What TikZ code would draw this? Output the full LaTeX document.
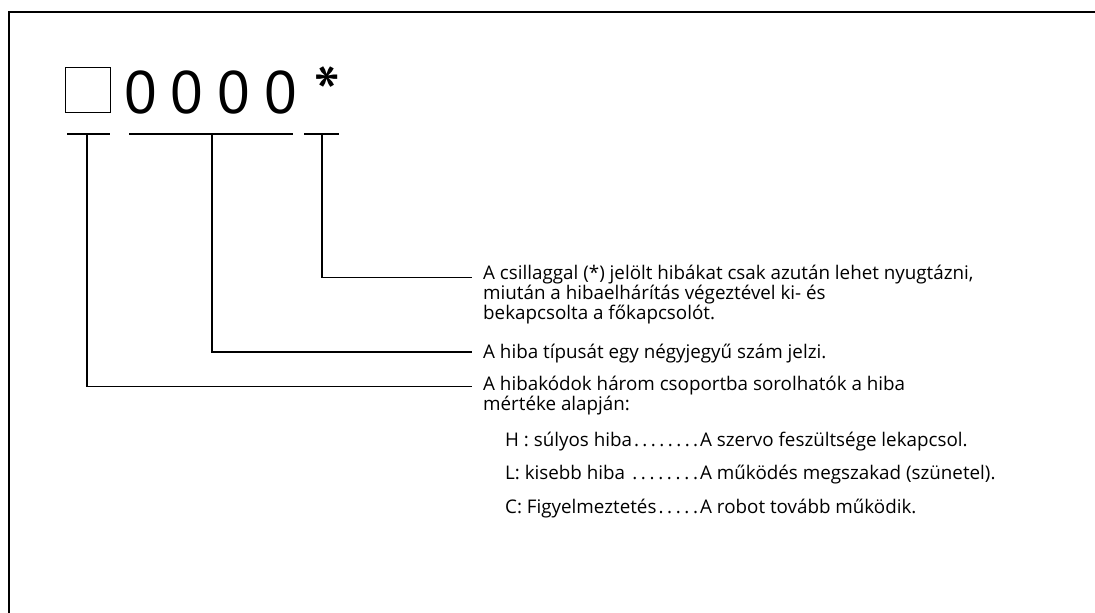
\documentclass[tikz,border=0pt]{standalone}
\usepackage{fontspec}
\setmainfont{Open Sans}
\newfontfamily\codefont{PT Sans}
\usepackage{tikz}
\usetikzlibrary{positioning,calc}
\newcommand\leaderdots{\xleaders\hbox to 8pt{\hss.\hss}\hfill}

\begin{document}
\begin{tikzpicture}[x=1pt, y=-1pt,
  every node/.style={inner sep=0pt, font=\fontsize{18.8}{18}\selectfont},
  big/.style={font=\codefont\fontsize{60}{60}\selectfont, anchor=base},
  conn/.style={line width=1.5pt},
  note/.style={anchor=base west, align=left}]
\useasboundingbox (0,0) rectangle (1095,613);
\draw[line width=2pt] (9,613) -- (9,12) -- (1095,12);
% ---- code: box, four digits, star
\node[draw, line width=1.4pt, minimum size=45pt] (sq) at (88,90) {};
\node[big] (d1) at (141,113) {0};
\node[big] (d2) at (187,113) {0};
\node[big] (d3) at (234,113) {0};
\node[big] (d4) at (281,113) {0};
\node[big, scale=1.3] (ast) at (327,122) {*};
% ---- underlines
\coordinate (u1) at (87,134);
\coordinate (u2) at (212,134);
\coordinate (u3) at (322,134);
\draw[conn] (67,134) -- (110,134);
\draw[conn] (129,134) -- (293,134);
\draw[conn] (304,134) -- (339,134);
% ---- explanations (base = last line)
\node[note] (t1) at (483,319) {A csillaggal (*) jelölt hibákat csak azután lehet nyugtázni,\\
  miután a hibaelhárítás végeztével ki- és\\ bekapcsolta a főkapcsolót.};
\node[note] (t2) at (483,358) {A hiba típusát egy négyjegyű szám jelzi.};
\node[note] (t3) at (483,410) {A hibakódok három csoportba sorolhatók a hiba\\ mértéke alapján:};
\node[note] (hh) at (505,446) {\makebox[195pt][l]{H : súlyos hiba\leaderdots}A szervo feszültsége lekapcsol.};
\node[note] (ll) at (505,479.5) {\makebox[195pt][l]{L: kisebb hiba \leaderdots}A működés megszakad (szünetel).};
\node[note] (cc) at (505,513) {\makebox[195pt][l]{C: Figyelmeztetés\leaderdots}A robot tovább működik.};
% ---- connectors
\draw[conn] (u3) |- ([xshift=-11pt, yshift=41.5pt]t1.base west);
\draw[conn] (u2) |- ([xshift=-11pt, yshift=6pt]t2.base west);
\draw[conn] (u1) |- ([xshift=-11pt, yshift=23.5pt]t3.base west);
\end{tikzpicture}
\end{document}
